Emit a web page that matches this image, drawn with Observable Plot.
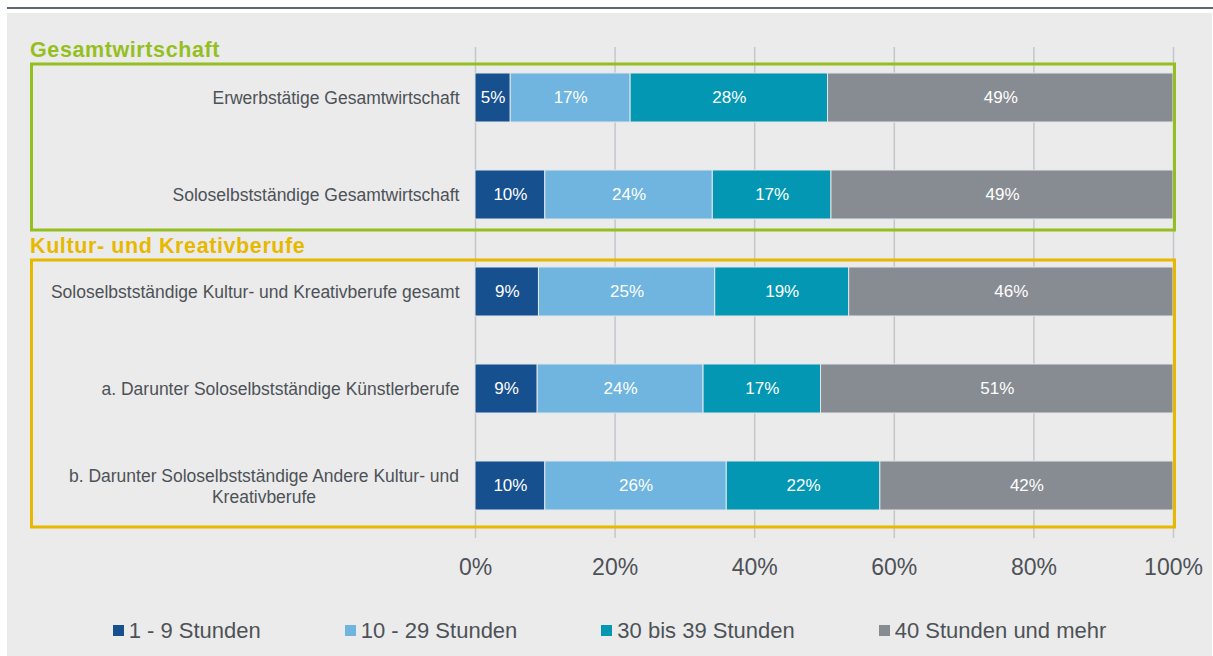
<!DOCTYPE html>
<html><head><meta charset="utf-8">
<script src="https://cdn.jsdelivr.net/npm/d3@7"></script>
<script src="https://cdn.jsdelivr.net/npm/@observablehq/plot@0.6"></script>
<style>
body{margin:0;background:#fff;width:1213px;height:656px;overflow:hidden;font-family:"Liberation Sans",Arial,sans-serif;}
#topline{position:absolute;left:7px;top:7px;width:1206px;height:2px;background:#5f6770;}
#panel{position:absolute;left:7px;top:13px;width:1205px;height:643px;background:#ebebeb;}
#chart{position:absolute;left:0;top:0;}
#legend{position:absolute;left:0;top:601px;width:1205px;display:flex;justify-content:center;}
.lg-swatches{font-family:"Liberation Sans",Arial,sans-serif !important;font-size:22px !important;color:#4d5257 !important;margin:0 !important;}
.lg-swatch{margin-right:84px !important;}
.lg-swatch:last-child{margin-right:0 !important;}
.lg-swatch > svg{margin-right:5px !important;}
</style></head><body>
<div id="topline"></div>
<div id="panel"><div id="chart"></div><div id="legend"></div></div>
<script>
// ---- data ----
const categories = [
  "Erwerbstätige Gesamtwirtschaft",
  "Soloselbstständige Gesamtwirtschaft",
  "Soloselbstständige Kultur- und Kreativberufe gesamt",
  "a. Darunter Soloselbstständige Künstlerberufe",
  "b. Darunter Soloselbstständige Andere Kultur- und Kreativberufe"
];
const groupNames = ["Gesamtwirtschaft", "Kultur- und Kreativberufe"];
const groupOfRow = [0, 0, 1, 1, 1];
const seriesNames = ["1 - 9 Stunden", "10 - 29 Stunden", "30 bis 39 Stunden", "40 Stunden und mehr"];
const hours1to9   = [5, 10, 9, 9, 10];
const hours10to29 = [17, 24, 25, 24, 26];
const hours30to39 = [28, 17, 19, 17, 22];
const hours40plus = [49, 49, 46, 51, 42];
const xTicks = [0, 0.2, 0.4, 0.6, 0.8, 1];

// ---- styles ----
const seriesColors = ["#17508f", "#6fb5e0", "#0397b4", "#878c92"];
const groupColors = ["#95bf1f", "#e6b800"];
const groupPad = [{top: 9, bottom: 11}, {top: 7, bottom: 17}];
const textColor = "#4d5257";
const FONT = "'Liberation Sans', Arial, sans-serif";
const LABEL_SIZE = 17.5;
const BOX_LEFT = 24.5;

const seriesValues = [hours1to9, hours10to29, hours30to39, hours40plus];
const data = [];
categories.forEach((row, i) => {
  seriesNames.forEach((cat, s) => data.push({row, cat, value: seriesValues[s][i]}));
});

const wrapLabel = (d) => d.replace(/ (Kreativberufe)$/, "\n$1");
const singleRows = categories.filter(d => !wrapLabel(d).includes("\n"));
const multiRows = categories.filter(d => wrapLabel(d).includes("\n"));

// measure first line for centered two-line label
const ctx = document.createElement("canvas").getContext("2d");
ctx.font = LABEL_SIZE + "px 'Liberation Sans'";
const firstLineW = multiRows.length ? ctx.measureText(wrapLabel(multiRows[0]).split("\n")[0]).width : 0;

function groupBoxes(index, scales) {
  const y = scales.y, x = scales.x;
  const bw = typeof y.bandwidth === "function" ? y.bandwidth() : y.bandwidth;
  const g = d3.create("svg:g");
  groupNames.forEach((name, gi) => {
    const rows = categories.filter((c, i) => groupOfRow[i] === gi);
    const top = y(rows[0]) - groupPad[gi].top;
    const bottom = y(rows[rows.length - 1]) + bw + groupPad[gi].bottom;
    g.append("rect")
      .attr("x", BOX_LEFT).attr("y", top)
      .attr("width", x(1) + 1.5 - BOX_LEFT).attr("height", bottom - top)
      .attr("fill", "none").attr("stroke", groupColors[gi]).attr("stroke-width", 3);
    g.append("text")
      .attr("x", BOX_LEFT - 1.5).attr("y", top - 7)
      .attr("text-anchor", "start")
      .attr("fill", groupColors[gi])
      .attr("font-family", FONT).attr("font-size", 21.5).attr("font-weight", "bold")
      .attr("letter-spacing", 0.6)
      .text(name);
  });
  return g.node();
}

const chart = Plot.plot({
  width: 1205,
  height: 580,
  marginLeft: 468,
  marginRight: 39,
  marginTop: 34,
  marginBottom: 55,
  style: {background: "transparent", fontFamily: FONT, color: textColor, overflow: "visible"},
  x: {domain: [0, 1], axis: null, label: null},
  y: {type: "band", domain: categories, range: [9.9, 546.1], paddingInner: 0.5, paddingOuter: 0.5, axis: null, label: null},
  color: {domain: seriesNames, range: seriesColors},
  marks: [
    Plot.ruleX(xTicks, {stroke: "#c3c7cb", strokeWidth: 1.5}),
    Plot.barX(data, Plot.stackX({x: "value", y: "row", fill: "cat", z: "cat", offset: "normalize", stroke: "#e4e6e8", strokeWidth: 1})),
    Plot.text(data, Plot.stackX({x: "value", y: "row", z: "cat", offset: "normalize", text: d => d.value + "%", fill: "white", fontSize: 17})),
    Plot.text(singleRows, {x: 0, y: d => d, text: d => d, textAnchor: "end", dx: -16, fontSize: LABEL_SIZE, fill: textColor}),
    Plot.text(multiRows, {x: 0, y: d => d, text: wrapLabel, textAnchor: "middle", dx: -16 - firstLineW / 2, fontSize: LABEL_SIZE, lineHeight: 1.2, fill: textColor}),
    Plot.axisX({ticks: xTicks, tickFormat: d3.format(".0%"), tickSize: 0, tickPadding: 20, fontSize: 23, anchor: "bottom", fill: textColor, label: null}),
    groupBoxes
  ]
});
document.getElementById("chart").appendChild(chart);

const legend = chart.legend("color", {className: "lg", swatchSize: 11});
document.getElementById("legend").appendChild(legend);
</script>
</body></html>
